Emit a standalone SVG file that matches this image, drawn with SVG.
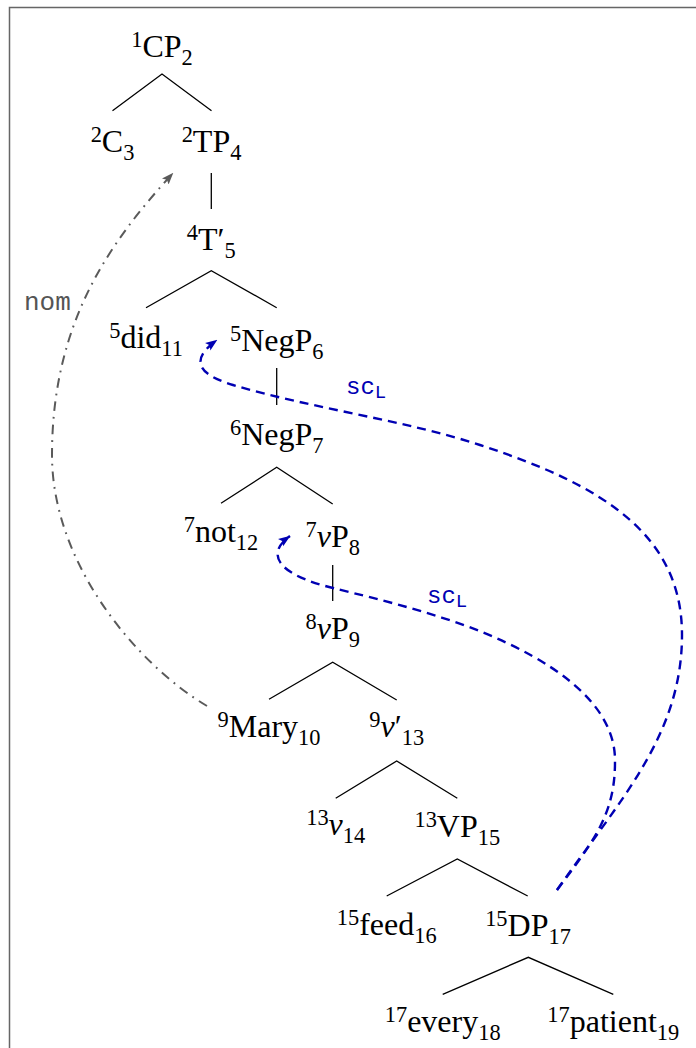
<svg xmlns="http://www.w3.org/2000/svg" width="696" height="1048" viewBox="0 0 696 1048">
<style>
.t{font-family:"Liberation Serif","Times New Roman",serif;font-size:32px;fill:#000;text-anchor:middle}
.s{font-size:22.4px}
.i{font-style:italic}
.e{stroke:#000;stroke-width:1.3;fill:none}
.tt{font-family:"Liberation Mono","Courier New",monospace}
.nom{font-size:26px;fill:#555}
.sc{font-size:24px;fill:#0000b3}
.scs{font-size:19px}
.bl{stroke:#0000b3;stroke-width:2.4;fill:none;stroke-dasharray:9 6}
.gr{stroke:#5a5a5a;stroke-width:2;fill:none;stroke-dasharray:9.6 6 1.8 6}
</style>
<defs>
<marker id="ab" viewBox="0 0 12 10" refX="11.5" refY="5" markerWidth="12" markerHeight="10" markerUnits="userSpaceOnUse" orient="auto"><path d="M0,0.5 L12,5 L0,9.5 L2.5,5 z" fill="#0000b3"/></marker>
<marker id="ag" viewBox="0 0 12 10" refX="11.5" refY="5" markerWidth="12" markerHeight="10" markerUnits="userSpaceOnUse" orient="auto"><path d="M0,0.5 L12,5 L0,9.5 L2.5,5 z" fill="#5a5a5a"/></marker>
</defs>
<rect x="9.5" y="7.5" width="700" height="1060" fill="#fff" stroke="#666" stroke-width="1.5"/>
<g id="edges">
<path class="e" d="M112.5,110.7 L162,74 L211.5,110.7"/>
<path class="e" d="M211.3,173 L211.3,209"/>
<path class="e" d="M146,307.7 L211.3,270.7 L276.7,307.7"/>
<path class="e" d="M276.7,368 L276.7,405"/>
<path class="e" d="M221,503.3 L276.7,467.3 L332.7,504"/>
<path class="e" d="M332.7,565 L332.7,601"/>
<path class="e" d="M269,699.3 L332.7,662.3 L396.7,700"/>
<path class="e" d="M335.7,798.3 L396.7,761 L457.3,798.3"/>
<path class="e" d="M386.7,896 L457.3,859 L527.7,896"/>
<path class="e" d="M442.7,994.3 L528.3,957.3 L613.3,994.3"/>
</g>
<g id="n1"><text class="t" x="162" y="57"><tspan class="s" dy="-10">1</tspan><tspan dy="10">CP</tspan><tspan class="s" dy="8">2</tspan></text></g>
<g id="n2"><text class="t" x="112.5" y="152"><tspan class="s" dy="-10">2</tspan><tspan dy="10">C</tspan><tspan class="s" dy="8">3</tspan></text></g>
<g id="n3"><text class="t" x="211.5" y="152"><tspan class="s" dy="-10">2</tspan><tspan dy="10">TP</tspan><tspan class="s" dy="8">4</tspan></text></g>
<g id="n4"><text class="t" x="211.3" y="250"><tspan class="s" dy="-10">4</tspan><tspan dy="10">T′</tspan><tspan class="s" dy="8">5</tspan></text></g>
<g id="n5"><text class="t" x="146" y="348"><tspan class="s" dy="-10">5</tspan><tspan dy="10">did</tspan><tspan class="s" dy="8">11</tspan></text></g>
<g id="n6"><text class="t" x="276.7" y="351"><tspan class="s" dy="-10">5</tspan><tspan dy="10">NegP</tspan><tspan class="s" dy="8">6</tspan></text></g>
<g id="n7"><text class="t" x="276.7" y="445"><tspan class="s" dy="-10">6</tspan><tspan dy="10">NegP</tspan><tspan class="s" dy="8">7</tspan></text></g>
<g id="n8"><text class="t" x="221" y="542"><tspan class="s" dy="-10">7</tspan><tspan dy="10">not</tspan><tspan class="s" dy="8">12</tspan></text></g>
<g id="n9"><text class="t" x="332.7" y="547"><tspan class="s" dy="-10">7</tspan><tspan class="i" dy="10">v</tspan><tspan>P</tspan><tspan class="s" dy="8">8</tspan></text></g>
<g id="n10"><text class="t" x="332.7" y="639"><tspan class="s" dy="-10">8</tspan><tspan class="i" dy="10">v</tspan><tspan>P</tspan><tspan class="s" dy="8">9</tspan></text></g>
<g id="n11"><text class="t" x="269" y="737"><tspan class="s" dy="-10">9</tspan><tspan dy="10">Mary</tspan><tspan class="s" dy="8">10</tspan></text></g>
<g id="n12"><text class="t" x="396.7" y="737"><tspan class="s" dy="-10">9</tspan><tspan class="i" dy="10">v</tspan><tspan>′</tspan><tspan class="s" dy="8">13</tspan></text></g>
<g id="n13"><text class="t" x="335.7" y="835"><tspan class="s" dy="-10">13</tspan><tspan class="i" dy="10">v</tspan><tspan class="s" dy="8">14</tspan></text></g>
<g id="n14"><text class="t" x="457.3" y="837"><tspan class="s" dy="-10">13</tspan><tspan dy="10">VP</tspan><tspan class="s" dy="8">15</tspan></text></g>
<g id="n15"><text class="t" x="386.7" y="935"><tspan class="s" dy="-10">15</tspan><tspan dy="10">feed</tspan><tspan class="s" dy="8">16</tspan></text></g>
<g id="n16"><text class="t" x="528" y="936"><tspan class="s" dy="-10">15</tspan><tspan dy="10">DP</tspan><tspan class="s" dy="8">17</tspan></text></g>
<g id="n17"><text class="t" x="442.7" y="1032"><tspan class="s" dy="-10">17</tspan><tspan dy="10">every</tspan><tspan class="s" dy="8">18</tspan></text></g>
<g id="n18"><text class="t" x="613.3" y="1032"><tspan class="s" dy="-10">17</tspan><tspan dy="10">patient</tspan><tspan class="s" dy="8">19</tspan></text></g>
<g id="connectors">
<path class="gr" d="M207,706 C139,666 52,565 52,455 C52,320 112,240 173,173" marker-end="url(#ag)"/>
<path class="bl" d="M557,890 C620,800 682,735 682,635 C682,535 603.5,485.3 480,445 C404,420 310,408 233,385 C190,372 195,356 217,340" marker-end="url(#ab)"/>
<path class="bl" d="M557,890 C593,842 615,815 615,762 C616,715 575,675 507,643 C453,617 381.5,600 333,588 C275,574 266,553 290,536" marker-end="url(#ab)"/>
<text class="tt nom" x="24" y="310">nom</text>
<text class="tt sc" x="346" y="394">sc<tspan class="scs" dy="4">L</tspan></text>
<text class="tt sc" x="427" y="603">sc<tspan class="scs" dy="4">L</tspan></text>
</g>
</svg>
